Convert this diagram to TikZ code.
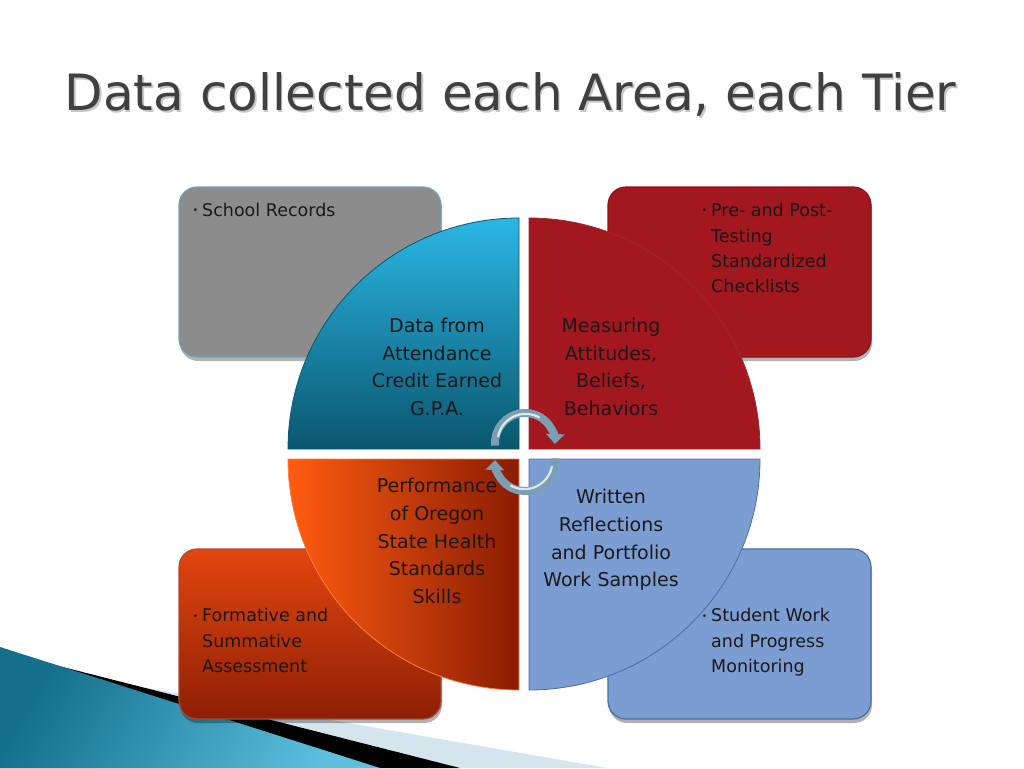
\documentclass[tikz,border=0pt]{standalone}
\usepackage{fontspec}
\setmainfont{DejaVu Sans}
\usetikzlibrary{arrows.meta,shadows}
\definecolor{titlegray}{HTML}{404040}
\definecolor{graybox}{HTML}{8C8C8C}
\definecolor{grayedge}{HTML}{74A3B3}
\definecolor{redbox}{HTML}{A3171F}
\definecolor{rededge}{HTML}{8E1219}
\definecolor{bluebox}{HTML}{7B9DD2}
\definecolor{blueedge}{HTML}{4A6DA3}
\definecolor{orangetop}{HTML}{E2450F}
\definecolor{orangebot}{HTML}{8E1F04}
\definecolor{orangeleft}{HTML}{FF5C10}
\definecolor{orangeright}{HTML}{8A1C03}
\definecolor{cyantop}{HTML}{2BB7E4}
\definecolor{cyanbot}{HTML}{0A566E}
\definecolor{tealdark}{HTML}{136F8C}
\definecolor{teallight}{HTML}{5CC0DE}
\definecolor{palestripe}{HTML}{D5E5EE}
\definecolor{cycblue}{HTML}{7A9FB2}
\definecolor{cychigh}{HTML}{DCE8EE}
\tikzset{
  rbox/.style={rectangle, rounded corners=18pt, minimum width=262pt, minimum height=170pt,
    line width=1.2pt, inner sep=0pt,
    drop shadow={shadow xshift=1pt, shadow yshift=-4pt, opacity=.3, fill=black}},
  quadtext/.style={align=center, font=\fontsize{19}{27.7}\selectfont, text=black!90, inner sep=0pt},
  boxtext/.style={align=left, anchor=north west, font=\fontsize{17.5}{25.5}\selectfont, text=black!90, inner sep=0pt},
  quad/.style={line width=0.8pt},
  cyc/.style={line width=8pt, color=cycblue, -{Triangle[length=10pt,width=18pt]}},
  cychl/.style={line width=2.2pt, color=cychigh},
}
\newcommand{\bul}{\llap{\fontsize{9}{9}\selectfont\raisebox{2.5pt}{•}\hspace{4pt}}}
\begin{document}
\begin{tikzpicture}[x=1pt,y=-1pt]
\useasboundingbox (0,0) rectangle (1024,768);
\fill[white] (0,0) rectangle (1024,768);

% bottom-left decoration
\fill[palestripe] (0,650) -- (95,679) -- (607,768) -- (0,768) -- cycle;
\fill[black] (0,650) -- (55,665) -- (460,768) -- (0,768) -- cycle;
\shade[left color=tealdark, right color=teallight, shading angle=60] (0,647) -- (380,768) -- (0,768) -- cycle;

% title
\node[anchor=base, font=\fontsize{50}{50}\selectfont, text=black!22, inner sep=0pt] (titleshadow) at (512,112.5) {Data collected each Area, each Tier};
\node[anchor=base, font=\fontsize{50}{50}\selectfont, text=titlegray, inner sep=0pt] (title) at (510.5,110.5) {Data collected each Area, each Tier};

% corner boxes
\node[rbox, fill=graybox, draw=grayedge] (boxA) at (310,272) {};
\node[rbox, fill=redbox, draw=rededge, minimum width=263pt] (boxB) at (739.5,272) {};
\node[rbox, top color=orangetop, bottom color=orangebot, draw=orangebot!80] (boxC) at (310,634) {};
\node[rbox, fill=bluebox, draw=blueedge, minimum width=263pt] (boxD) at (739.5,634) {};

% quadrants
\shadedraw[quad, top color=cyantop, bottom color=cyanbot, draw=cyanbot]
  (519,449) -- ++(-231,0) arc[start angle=180, end angle=270, radius=231] -- cycle;
\filldraw[quad, fill=redbox, draw=rededge!90]
  (529,449) -- ++(0,-231) arc[start angle=270, end angle=360, radius=231] -- cycle;
\filldraw[quad, fill=bluebox, draw=blueedge]
  (529,459) -- ++(231,0) arc[start angle=0, end angle=90, radius=231] -- cycle;
\shadedraw[quad, left color=orangeleft, right color=orangeright, draw=orangeleft!80!white]
  (519,459) -- ++(0,231) arc[start angle=90, end angle=180, radius=231] -- cycle;

% quadrant texts
\node[quadtext] (qA) at (437,367) {Data from\\Attendance\\Credit Earned\\G.P.A.};
\node[quadtext] (qB) at (611,367) {Measuring\\Attitudes,\\Beliefs,\\Behaviors};
\node[quadtext] (qC) at (437,541) {Performance\\of Oregon\\State Health\\Standards\\Skills};
\node[quadtext] (qD) at (611,540) {Written\\Reflections\\and Portfolio\\Work Samples};

% box texts
\node[boxtext] (tA) at (202,203) {\bul School Records};
\node[boxtext] (tB) at (711,203) {\bul Pre- and Post-\\Testing\\Standardized\\Checklists};
\node[boxtext] (tC) at (202,608) {\bul Formative and\\Summative\\Assessment};
\node[boxtext] (tD) at (711,608) {\bul Student Work\\and Progress\\Monitoring};

% cycle arrows
\coordinate (ua) at (495.1,445.6);
\coordinate (la) at (554.9,458.4);
\draw[cyc] (ua) arc[start angle=175, end angle=362, radius=30];
\draw[cyc] (la) arc[start angle=-5, end angle=182, radius=30];
\coordinate (uh) at (498,437);
\coordinate (lh) at (552,466);
\draw[cychl] (uh) arc[start angle=190, end angle=300, radius=28];
\draw[cychl] (lh) arc[start angle=10, end angle=120, radius=28];
\end{tikzpicture}
\end{document}
